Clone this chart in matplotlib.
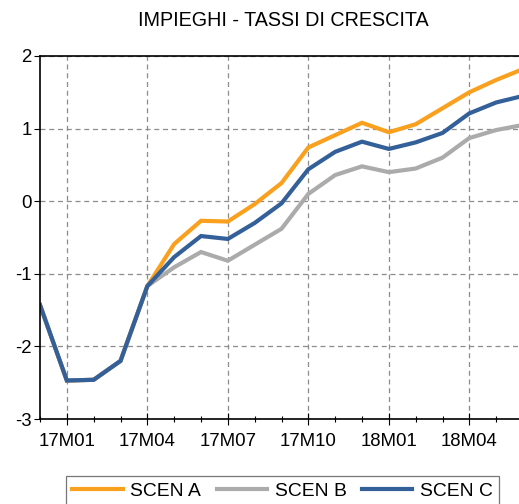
import matplotlib
matplotlib.use("Agg")
import matplotlib.pyplot as plt
from matplotlib.ticker import MultipleLocator, FixedLocator

plt.rcParams['font.family'] = ['Liberation Sans', 'DejaVu Sans']
plt.rcParams['axes.unicode_minus'] = False

months = ["16M12", "17M01", "17M02", "17M03", "17M04", "17M05", "17M06", "17M07",
          "17M08", "17M09", "17M10", "17M11", "17M12", "18M01", "18M02", "18M03",
          "18M04", "18M05", "18M06"]
scen_a = [-1.43, -2.47, -2.46, -2.20, -1.17, -0.59, -0.27, -0.28, -0.04, 0.25,
          0.74, 0.91, 1.08, 0.95, 1.06, 1.28, 1.50, 1.67, 1.82]
scen_b = [-1.43, -2.47, -2.46, -2.20, -1.17, -0.91, -0.70, -0.82, -0.60, -0.38,
          0.10, 0.36, 0.48, 0.40, 0.45, 0.60, 0.87, 0.98, 1.05]
scen_c = [-1.43, -2.47, -2.46, -2.20, -1.17, -0.77, -0.48, -0.52, -0.30, -0.03,
          0.44, 0.68, 0.82, 0.72, 0.81, 0.94, 1.21, 1.36, 1.45]
tick_labels = ["17M01", "17M04", "17M07", "17M10", "18M01", "18M04"]
series_names = ["SCEN A", "SCEN B", "SCEN C"]
colors = ["#F9A11F", "#ABABAB", "#34609A"]

W, H = 519, 504
fig = plt.figure(figsize=(W / 100, H / 100), dpi=100)
left, right, top, bottom = 40, 523, 56, 419
ax = fig.add_axes([left / W, 1 - bottom / H, (right - left) / W, (bottom - top) / H])

x = list(range(len(months)))
for vals, name, c in zip([scen_a, scen_b, scen_c], series_names, colors):
    ax.plot(x, vals, color=c, lw=3.0, label=name, solid_joinstyle='miter')

ax.set_xlim(0, len(months) - 1)
ax.set_ylim(-3, 2)
major_idx = [months.index(t) for t in tick_labels]
ax.xaxis.set_major_locator(FixedLocator(major_idx))
ax.set_xticklabels(tick_labels)
ax.xaxis.set_minor_locator(MultipleLocator(1))
ax.yaxis.set_major_locator(MultipleLocator(1))

ax.grid(True, which='major', color='#8c8c8c', linestyle=(0, (4, 3)), linewidth=0.9)
ax.tick_params(axis='x', which='major', direction='inout', length=8, width=0.8,
               labelsize=13.4, pad=6)
ax.tick_params(axis='x', which='minor', direction='inout', length=5, width=0.8)
ax.tick_params(axis='y', which='major', direction='out', length=4, width=0.8,
               labelsize=13.4, pad=2)
for s in ['left', 'bottom', 'top']:
    ax.spines[s].set_linewidth(1.2)
    ax.spines[s].set_color('black')
ax.spines['right'].set_visible(False)

fig.text(283 / W, 1 - 21 / H, "IMPIEGHI - TASSI DI CRESCITA", ha='center', va='center',
         fontsize=14.2)

leg = fig.legend(loc='upper center', bbox_to_anchor=(282.5 / W, 1 - 466 / H), ncol=3,
                 frameon=True, fancybox=False, edgecolor='#555555', fontsize=13.9,
                 handlelength=2.6, columnspacing=0.8, handletextpad=0.4,
                 borderpad=0.35)
leg.get_frame().set_linewidth(0.9)

fig.savefig("out.png", dpi=100)
